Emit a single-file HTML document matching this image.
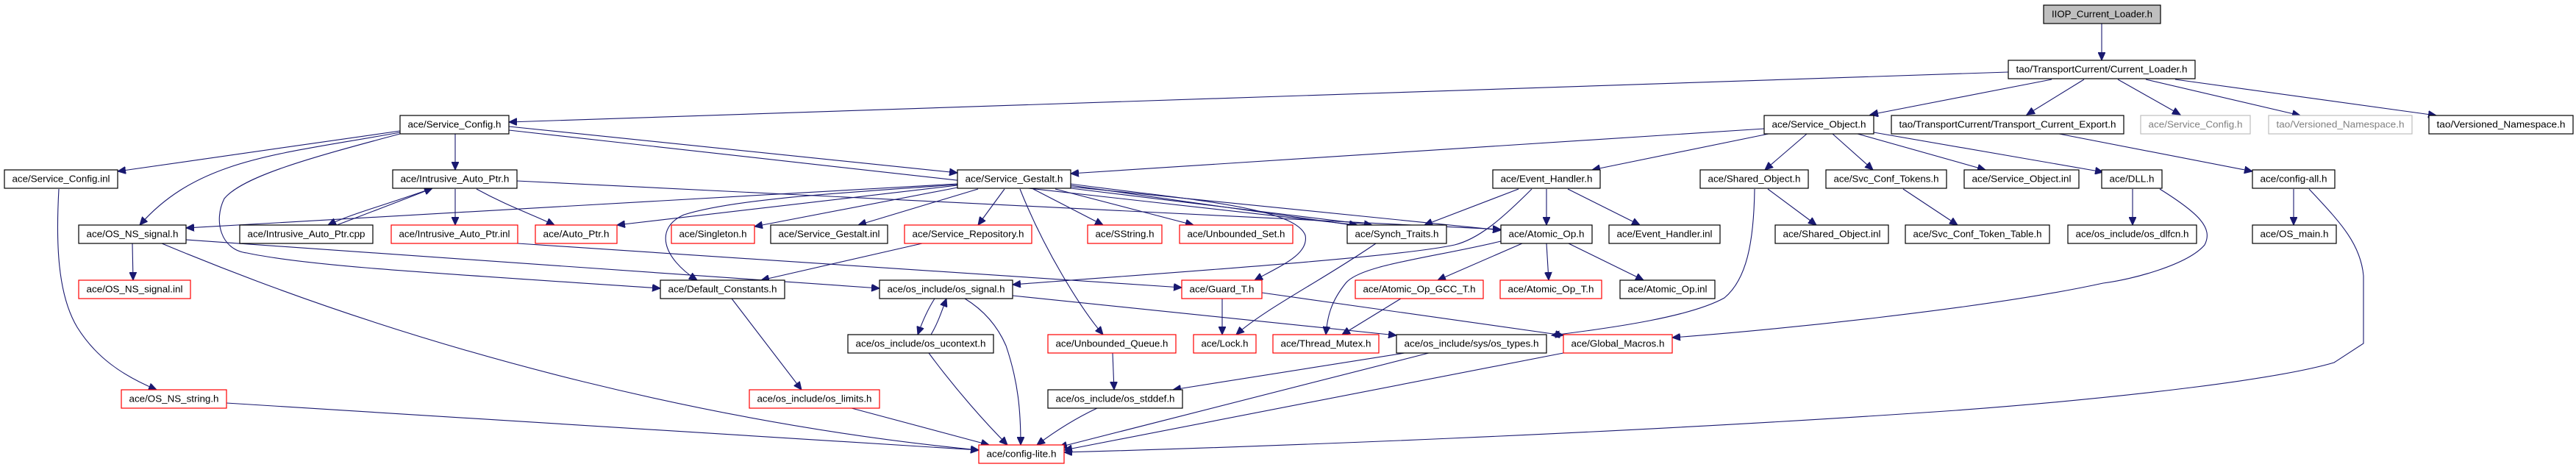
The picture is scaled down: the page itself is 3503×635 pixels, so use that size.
<!DOCTYPE html>
<html><head><meta charset="utf-8"><style>
html,body{margin:0;padding:0;background:#fff;}
svg{display:block;}
text{font-family:"Liberation Sans",sans-serif;font-size:12.5px;text-anchor:middle;}
.n rect{fill:#fff;stroke:#000;stroke-width:1.2;}
.r rect{fill:#fff;stroke:#ff0000;stroke-width:1.2;}
.g rect{fill:#fff;stroke:#bfbfbf;stroke-width:1.2;}
.g text{fill:#808080;}
.e path{fill:none;stroke:#191970;stroke-width:1.1;}
</style></head><body>
<svg width="3503" height="635" viewBox="0 0 3503 635" xmlns="http://www.w3.org/2000/svg">
<defs><marker id="a" markerUnits="userSpaceOnUse" markerWidth="12" markerHeight="10" refX="11" refY="5" orient="auto"><path d="M0,0 L11,5 L0,10 z" fill="#191970" stroke="#191970"/></marker></defs>
<g class="e" marker-end="url(#a)">
<path d="M2858,32 L2858,82" marker-end="url(#a)"/>
<path d="M2731,98 L692,166" marker-end="url(#a)"/>
<path d="M2790,108 L2543,156" marker-end="url(#a)"/>
<path d="M2834,108 L2756,156" marker-end="url(#a)"/>
<path d="M2880,108 L2965,156" marker-end="url(#a)"/>
<path d="M2918,108 L3128,157" marker-end="url(#a)"/>
<path d="M2958,108 L3313,157" marker-end="url(#a)"/>
<path d="M544,178 L160,233" marker-end="url(#a)"/>
<path d="M544,180 C380,210 270,215 190,306" marker-end="url(#a)"/>
<path d="M544,182 C420,215 330,240 305,270 C290,300 300,340 336,344 C420,362 600,372 898,392" marker-end="url(#a)"/>
<path d="M619,182 L619,231" marker-end="url(#a)"/>
<path d="M692,172 L1302,235" marker-end="url(#a)"/>
<path d="M692,177 L1846,306" marker-end="url(#a)"/>
<path d="M2399,175 L1456,236" marker-end="url(#a)"/>
<path d="M585,257 C520,280 480,290 446,306" marker-end="url(#a)"/>
<path d="M458,306 C500,290 540,275 588,256" marker-end="url(#a)"/>
<path d="M619,257 L619,306" marker-end="url(#a)"/>
<path d="M648,257 C690,280 720,290 754,306" marker-end="url(#a)"/>
<path d="M703,246 L2041,312" marker-end="url(#a)"/>
<path d="M1302,250 L253,310" marker-end="url(#a)"/>
<path d="M1302,252 L839,306" marker-end="url(#a)"/>
<path d="M1302,255 L1026,308" marker-end="url(#a)"/>
<path d="M1330,257 L1167,306" marker-end="url(#a)"/>
<path d="M1366,257 L1330,306" marker-end="url(#a)"/>
<path d="M1405,257 L1500,306" marker-end="url(#a)"/>
<path d="M1435,257 L1623,306" marker-end="url(#a)"/>
<path d="M1387,257 C1420,340 1470,420 1500,455" marker-end="url(#a)"/>
<path d="M1302,251 C1150,262 1000,270 930,292 C890,310 900,350 948,381" marker-end="url(#a)"/>
<path d="M1456,250 C1600,270 1760,280 1775,320 C1780,345 1745,360 1706,381" marker-end="url(#a)"/>
<path d="M1456,252 L1846,307" marker-end="url(#a)"/>
<path d="M1456,254 L2041,313" marker-end="url(#a)"/>
<path d="M1456,256 L1866,306" marker-end="url(#a)"/>
<path d="M2065,257 L1937,306" marker-end="url(#a)"/>
<path d="M2103,257 L2103,306" marker-end="url(#a)"/>
<path d="M2132,257 L2230,306" marker-end="url(#a)"/>
<path d="M2083,257 C2040,300 2010,325 1978,333 C1900,350 1600,370 1377,387" marker-end="url(#a)"/>
<path d="M1871,331 C1800,380 1720,420 1681,455" marker-end="url(#a)"/>
<path d="M2041,328 C1950,350 1850,360 1830,385 C1810,410 1805,430 1803,455" marker-end="url(#a)"/>
<path d="M2070,331 L1955,381" marker-end="url(#a)"/>
<path d="M2103,331 L2106,381" marker-end="url(#a)"/>
<path d="M2133,331 L2235,381" marker-end="url(#a)"/>
<path d="M1905,406 L1825,455" marker-end="url(#a)"/>
<path d="M2386,257 C2385,330 2375,380 2345,405 C2300,430 2200,445 2110,456" marker-end="url(#a)"/>
<path d="M2404,257 L2470,306" marker-end="url(#a)"/>
<path d="M2405,182 L2165,231" marker-end="url(#a)"/>
<path d="M2457,182 L2400,231" marker-end="url(#a)"/>
<path d="M2492,182 L2547,231" marker-end="url(#a)"/>
<path d="M2526,182 L2700,231" marker-end="url(#a)"/>
<path d="M2548,180 L2860,234" marker-end="url(#a)"/>
<path d="M2588,257 L2662,306" marker-end="url(#a)"/>
<path d="M2900,257 L2900,306" marker-end="url(#a)"/>
<path d="M2937,257 C2990,290 3010,310 2998,333 C2975,360 2900,380 2860,385 C2700,420 2400,450 2274,459" marker-end="url(#a)"/>
<path d="M2800,182 L3063,233" marker-end="url(#a)"/>
<path d="M3119,257 L3119,306" marker-end="url(#a)"/>
<path d="M3140,257 C3180,300 3210,330 3214,375 L3214,467 L3174,493 C3100,515 2900,540 2660,558 C2200,590 1700,608 1447,615" marker-end="url(#a)"/>
<path d="M180,331 L181,381" marker-end="url(#a)"/>
<path d="M253,326 L1196,392" marker-end="url(#a)"/>
<path d="M220,331 C600,490 1000,580 1331,612" marker-end="url(#a)"/>
<path d="M704,331 L1607,391" marker-end="url(#a)"/>
<path d="M1254,331 L1035,381" marker-end="url(#a)"/>
<path d="M995,406 L1090,530" marker-end="url(#a)"/>
<path d="M1271,406 C1262,420 1255,435 1248,455" marker-end="url(#a)"/>
<path d="M1266,455 C1275,440 1280,425 1287,406" marker-end="url(#a)"/>
<path d="M1312,406 C1335,420 1355,440 1368,470 C1385,520 1388,560 1388,605" marker-end="url(#a)"/>
<path d="M1263,480 C1300,530 1340,575 1370,605" marker-end="url(#a)"/>
<path d="M1513,480 L1515,530" marker-end="url(#a)"/>
<path d="M1662,406 L1662,455" marker-end="url(#a)"/>
<path d="M1158,555 L1345,605" marker-end="url(#a)"/>
<path d="M1492,555 C1460,570 1430,590 1410,605" marker-end="url(#a)"/>
<path d="M1377,402 L1899,456" marker-end="url(#a)"/>
<path d="M1716,398 L2126,456" marker-end="url(#a)"/>
<path d="M1910,480 L1595,530" marker-end="url(#a)"/>
<path d="M1943,480 L1440,608" marker-end="url(#a)"/>
<path d="M2126,480 L1447,612" marker-end="url(#a)"/>
<path d="M308,548 L1331,612" marker-end="url(#a)"/>
<path d="M80,257 C76,330 78,400 105,445 C130,485 165,510 213,530" marker-end="url(#a)"/>
</g>
<g class="g"><rect x="2779" y="7" width="159" height="25" style="fill:#bfbfbf;stroke:#000"/><text x="2858.5" y="23.5" textLength="137" lengthAdjust="spacingAndGlyphs" style="fill:#000">IIOP_Current_Loader.h</text></g>
<g class="n"><rect x="2731" y="82" width="254" height="25"/><text x="2858" y="98.5" textLength="233" lengthAdjust="spacingAndGlyphs">tao/TransportCurrent/Current_Loader.h</text></g>
<g class="n"><rect x="544" y="157" width="148" height="25"/><text x="618" y="173.5" textLength="127" lengthAdjust="spacingAndGlyphs">ace/Service_Config.h</text></g>
<g class="n"><rect x="2399" y="157" width="149" height="25"/><text x="2473.5" y="173.5" textLength="128" lengthAdjust="spacingAndGlyphs">ace/Service_Object.h</text></g>
<g class="n"><rect x="2572" y="157" width="316" height="25"/><text x="2730" y="173.5" textLength="295" lengthAdjust="spacingAndGlyphs">tao/TransportCurrent/Transport_Current_Export.h</text></g>
<g class="g"><rect x="2911" y="157" width="149" height="25"/><text x="2985.5" y="173.5" textLength="128" lengthAdjust="spacingAndGlyphs">ace/Service_Config.h</text></g>
<g class="g"><rect x="3085" y="157" width="195" height="25"/><text x="3182.5" y="173.5" textLength="174" lengthAdjust="spacingAndGlyphs">tao/Versioned_Namespace.h</text></g>
<g class="n"><rect x="3303" y="157" width="196" height="25"/><text x="3401" y="173.5" textLength="175" lengthAdjust="spacingAndGlyphs">tao/Versioned_Namespace.h</text></g>
<g class="n"><rect x="6" y="231" width="154" height="25"/><text x="83" y="247.5" textLength="133" lengthAdjust="spacingAndGlyphs">ace/Service_Config.inl</text></g>
<g class="n"><rect x="534" y="231" width="169" height="25"/><text x="618.5" y="247.5" textLength="148" lengthAdjust="spacingAndGlyphs">ace/Intrusive_Auto_Ptr.h</text></g>
<g class="n"><rect x="1302" y="231" width="154" height="25"/><text x="1379" y="247.5" textLength="133" lengthAdjust="spacingAndGlyphs">ace/Service_Gestalt.h</text></g>
<g class="n"><rect x="2030" y="231" width="146" height="25"/><text x="2103" y="247.5" textLength="125" lengthAdjust="spacingAndGlyphs">ace/Event_Handler.h</text></g>
<g class="n"><rect x="2312" y="231" width="147" height="25"/><text x="2385.5" y="247.5" textLength="126" lengthAdjust="spacingAndGlyphs">ace/Shared_Object.h</text></g>
<g class="n"><rect x="2483" y="231" width="164" height="25"/><text x="2565" y="247.5" textLength="143" lengthAdjust="spacingAndGlyphs">ace/Svc_Conf_Tokens.h</text></g>
<g class="n"><rect x="2671" y="231" width="156" height="25"/><text x="2749" y="247.5" textLength="135" lengthAdjust="spacingAndGlyphs">ace/Service_Object.inl</text></g>
<g class="n"><rect x="2858" y="231" width="82" height="25"/><text x="2899" y="247.5" textLength="61" lengthAdjust="spacingAndGlyphs">ace/DLL.h</text></g>
<g class="n"><rect x="3063" y="231" width="112" height="25"/><text x="3119" y="247.5" textLength="91" lengthAdjust="spacingAndGlyphs">ace/config-all.h</text></g>
<g class="n"><rect x="107" y="306" width="146" height="25"/><text x="180" y="322.5" textLength="125" lengthAdjust="spacingAndGlyphs">ace/OS_NS_signal.h</text></g>
<g class="n"><rect x="326" y="306" width="181" height="25"/><text x="416.5" y="322.5" textLength="160" lengthAdjust="spacingAndGlyphs">ace/Intrusive_Auto_Ptr.cpp</text></g>
<g class="r"><rect x="532" y="306" width="172" height="25"/><text x="618" y="322.5" textLength="151" lengthAdjust="spacingAndGlyphs">ace/Intrusive_Auto_Ptr.inl</text></g>
<g class="r"><rect x="728" y="306" width="111" height="25"/><text x="783.5" y="322.5" textLength="90" lengthAdjust="spacingAndGlyphs">ace/Auto_Ptr.h</text></g>
<g class="r"><rect x="913" y="306" width="113" height="25"/><text x="969.5" y="322.5" textLength="92" lengthAdjust="spacingAndGlyphs">ace/Singleton.h</text></g>
<g class="n"><rect x="1048" y="306" width="159" height="25"/><text x="1127.5" y="322.5" textLength="138" lengthAdjust="spacingAndGlyphs">ace/Service_Gestalt.inl</text></g>
<g class="r"><rect x="1230" y="306" width="173" height="25"/><text x="1316.5" y="322.5" textLength="152" lengthAdjust="spacingAndGlyphs">ace/Service_Repository.h</text></g>
<g class="r"><rect x="1479" y="306" width="101" height="25"/><text x="1529.5" y="322.5" textLength="80" lengthAdjust="spacingAndGlyphs">ace/SString.h</text></g>
<g class="r"><rect x="1604" y="306" width="154" height="25"/><text x="1681" y="322.5" textLength="133" lengthAdjust="spacingAndGlyphs">ace/Unbounded_Set.h</text></g>
<g class="n"><rect x="1832" y="306" width="135" height="25"/><text x="1899.5" y="322.5" textLength="114" lengthAdjust="spacingAndGlyphs">ace/Synch_Traits.h</text></g>
<g class="n"><rect x="2041" y="306" width="124" height="25"/><text x="2103" y="322.5" textLength="103" lengthAdjust="spacingAndGlyphs">ace/Atomic_Op.h</text></g>
<g class="n"><rect x="2188" y="306" width="151" height="25"/><text x="2263.5" y="322.5" textLength="130" lengthAdjust="spacingAndGlyphs">ace/Event_Handler.inl</text></g>
<g class="n"><rect x="2414" y="306" width="154" height="25"/><text x="2491" y="322.5" textLength="133" lengthAdjust="spacingAndGlyphs">ace/Shared_Object.inl</text></g>
<g class="n"><rect x="2591" y="306" width="196" height="25"/><text x="2689" y="322.5" textLength="175" lengthAdjust="spacingAndGlyphs">ace/Svc_Conf_Token_Table.h</text></g>
<g class="n"><rect x="2812" y="306" width="175" height="25"/><text x="2899.5" y="322.5" textLength="154" lengthAdjust="spacingAndGlyphs">ace/os_include/os_dlfcn.h</text></g>
<g class="n"><rect x="3063" y="306" width="114" height="25"/><text x="3120" y="322.5" textLength="93" lengthAdjust="spacingAndGlyphs">ace/OS_main.h</text></g>
<g class="r"><rect x="107" y="381" width="152" height="25"/><text x="183" y="397.5" textLength="131" lengthAdjust="spacingAndGlyphs">ace/OS_NS_signal.inl</text></g>
<g class="n"><rect x="898" y="381" width="169" height="25"/><text x="982.5" y="397.5" textLength="148" lengthAdjust="spacingAndGlyphs">ace/Default_Constants.h</text></g>
<g class="n"><rect x="1196" y="381" width="181" height="25"/><text x="1286.5" y="397.5" textLength="160" lengthAdjust="spacingAndGlyphs">ace/os_include/os_signal.h</text></g>
<g class="r"><rect x="1607" y="381" width="109" height="25"/><text x="1661.5" y="397.5" textLength="88" lengthAdjust="spacingAndGlyphs">ace/Guard_T.h</text></g>
<g class="r"><rect x="1843" y="381" width="174" height="25"/><text x="1930" y="397.5" textLength="153" lengthAdjust="spacingAndGlyphs">ace/Atomic_Op_GCC_T.h</text></g>
<g class="r"><rect x="2040" y="381" width="138" height="25"/><text x="2109" y="397.5" textLength="117" lengthAdjust="spacingAndGlyphs">ace/Atomic_Op_T.h</text></g>
<g class="n"><rect x="2203" y="381" width="129" height="25"/><text x="2267.5" y="397.5" textLength="108" lengthAdjust="spacingAndGlyphs">ace/Atomic_Op.inl</text></g>
<g class="n"><rect x="1153" y="455" width="198" height="25"/><text x="1252" y="471.5" textLength="177" lengthAdjust="spacingAndGlyphs">ace/os_include/os_ucontext.h</text></g>
<g class="r"><rect x="1425" y="455" width="174" height="25"/><text x="1512" y="471.5" textLength="153" lengthAdjust="spacingAndGlyphs">ace/Unbounded_Queue.h</text></g>
<g class="r"><rect x="1623" y="455" width="85" height="25"/><text x="1665.5" y="471.5" textLength="64" lengthAdjust="spacingAndGlyphs">ace/Lock.h</text></g>
<g class="r"><rect x="1731" y="455" width="144" height="25"/><text x="1803" y="471.5" textLength="123" lengthAdjust="spacingAndGlyphs">ace/Thread_Mutex.h</text></g>
<g class="n"><rect x="1899" y="455" width="204" height="25"/><text x="2001" y="471.5" textLength="183" lengthAdjust="spacingAndGlyphs">ace/os_include/sys/os_types.h</text></g>
<g class="r"><rect x="2126" y="455" width="148" height="25"/><text x="2200" y="471.5" textLength="127" lengthAdjust="spacingAndGlyphs">ace/Global_Macros.h</text></g>
<g class="r"><rect x="165" y="530" width="143" height="25"/><text x="236.5" y="546.5" textLength="122" lengthAdjust="spacingAndGlyphs">ace/OS_NS_string.h</text></g>
<g class="r"><rect x="1019" y="530" width="177" height="25"/><text x="1107.5" y="546.5" textLength="156" lengthAdjust="spacingAndGlyphs">ace/os_include/os_limits.h</text></g>
<g class="n"><rect x="1425" y="530" width="183" height="25"/><text x="1516.5" y="546.5" textLength="162" lengthAdjust="spacingAndGlyphs">ace/os_include/os_stddef.h</text></g>
<g class="r"><rect x="1331" y="605" width="116" height="25"/><text x="1389" y="621.5" textLength="95" lengthAdjust="spacingAndGlyphs">ace/config-lite.h</text></g>
</svg>
</body></html>
